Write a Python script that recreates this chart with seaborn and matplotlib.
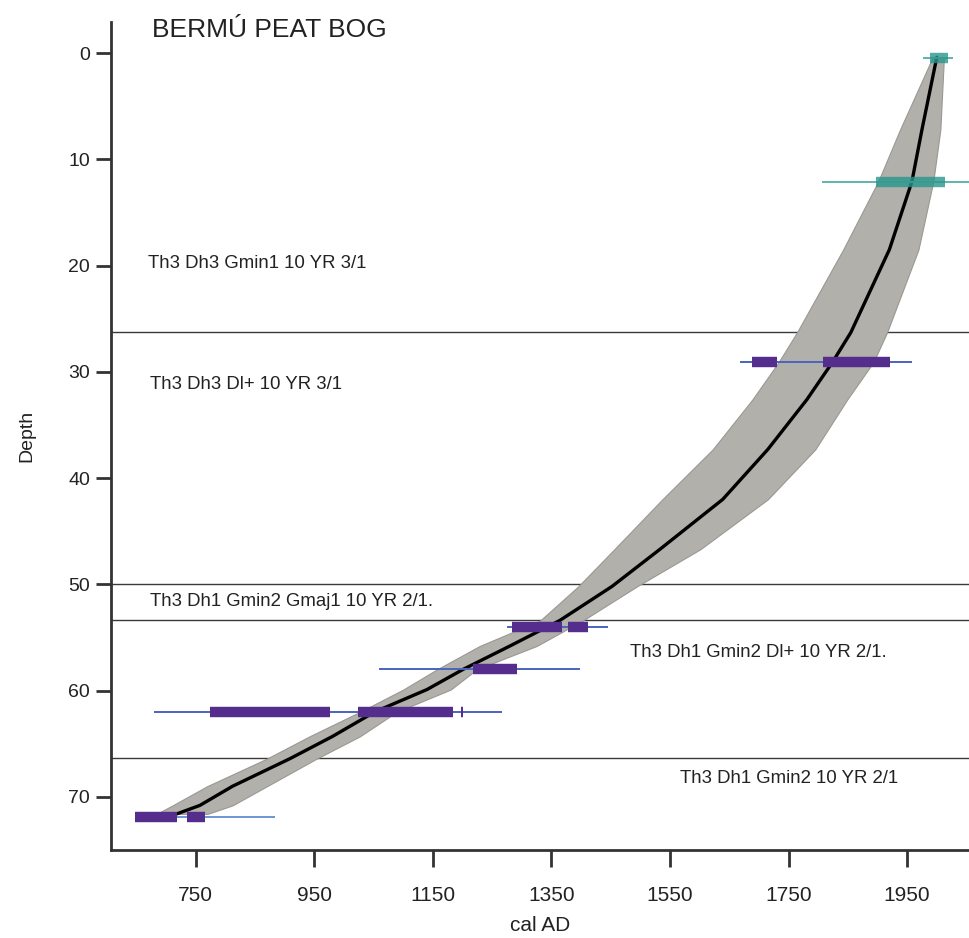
import numpy as np
import pandas as pd
import matplotlib
matplotlib.use('Agg')
import matplotlib.pyplot as plt
import seaborn as sns

# Age-depth model (depth in cm, age in cal AD)
depth = [0.4, 7.2, 12.1, 18.5, 26.3, 29.1, 32.6, 37.3, 42.0, 46.7, 50.2,
         53.4, 55.8, 58.0, 59.9, 62.0, 64.3, 66.4, 69.0, 70.8, 71.6]
age_mean = [2000, 1975, 1958, 1920, 1855, 1824, 1781, 1715, 1639, 1533, 1452,
            1364, 1280, 1201, 1140, 1052, 981, 909, 812, 757, 718]
age_low = [1993, 1938, 1901, 1842, 1764, 1733, 1689, 1622, 1537, 1456, 1395,
           1331, 1229, 1157, 1100, 1027, 942, 870, 769, 711, 684]
age_high = [2012, 2006, 1994, 1969, 1916, 1893, 1849, 1795, 1715, 1601, 1494,
            1403, 1325, 1224, 1180, 1089, 1027, 954, 870, 812, 770]

# Dated samples: full calibrated range and the high-probability pieces
date_depth = [0.5, 12.1, 29.1, 54.0, 58.0, 62.0, 71.9]
date_min = [1977, 1807, 1668, 1275, 1059, 679, 647]
date_max = [2027, 2070, 1958, 1445, 1398, 1266, 883]
date_pieces = [
    [(1989, 2019)],
    [(1898, 2014)],
    [(1688, 1731), (1808, 1921)],
    [(1283, 1368), (1378, 1412)],
    [(1217, 1292)],
    [(774, 976), (1023, 1184), (1197, 1201)],
    [(647, 718), (736, 765)],
]
date_kind = ['modern', 'modern', 'c14', 'c14', 'c14', 'c14', 'c14_light']

# Lithology boundaries and descriptions
unit_bounds = [26.3, 50.0, 53.4, 66.3]
unit_text = ['Th3 Dh3 Gmin1 10 YR 3/1', 'Th3 Dh3 Dl+ 10 YR 3/1',
             'Th3 Dh1 Gmin2 Gmaj1 10 YR 2/1.', 'Th3 Dh1 Gmin2 Dl+ 10 YR 2/1.',
             'Th3 Dh1 Gmin2 10 YR 2/1']
unit_age = [669, 672, 672, 1483, 1567]
unit_depth = [19.8, 31.2, 51.6, 56.4, 68.3]

sns.set_theme(style='ticks')
plt.rcParams['font.family'] = ['Liberation Sans', 'DejaVu Sans']

fig = plt.figure(figsize=(9.7, 9.38), dpi=100)
ax = fig.add_axes([0.1144, 0.0938, 0.8856, 0.883])

model = pd.DataFrame({'depth': depth, 'mean': age_mean,
                      'low': age_low, 'high': age_high})

ax.fill_betweenx(model.depth, model.low, model.high,
                 color='#b2b0aa', edgecolor='#9a9893', lw=0.8, zorder=1)
sns.lineplot(data=model, x='mean', y='depth', sort=False, orient='y',
             color='black', lw=2.4, ax=ax, zorder=2)

colours = {'modern': ('#5cb5ab', '#2a968c', 0.8),
           'c14': ('#4a64be', '#552d8c', 1.0),
           'c14_light': ('#6f95d0', '#552d8c', 1.0)}
for d, lo, hi, pieces, kind in zip(date_depth, date_min, date_max,
                                   date_pieces, date_kind):
    thin_c, thick_c, alpha = colours[kind]
    ax.hlines(d, lo, hi, color=thin_c, lw=1.4, zorder=3)
    for a, b in pieces:
        ax.hlines(d, a, b, color=thick_c, lw=7.5, alpha=alpha, zorder=4)

for b in unit_bounds:
    ax.axhline(b, color='#3a3a3a', lw=1.0, zorder=0)

for t, a, d in zip(unit_text, unit_age, unit_depth):
    ax.text(a, d, t, fontsize=13.4, va='center', ha='left', color='#222222')

ax.text(676, -2.2, 'BERMÚ PEAT BOG', fontsize=19, va='center', ha='left',
        color='#222222')

ax.set_xlim(607, 2056)
ax.set_ylim(75.0, -2.94)
ax.set_xticks(range(750, 1951, 200))
ax.set_yticks(range(0, 71, 10))
ax.set_xlabel('cal AD', fontsize=15, color='#222222', labelpad=8)
ax.set_ylabel('Depth', fontsize=14, color='#222222', labelpad=24)

sns.despine(ax=ax)
for s in ['left', 'bottom']:
    ax.spines[s].set_linewidth(2)
    ax.spines[s].set_color('#333333')
ax.tick_params(axis='both', length=11, width=2, color='#333333',
               labelcolor='#222222')
ax.tick_params(axis='x', labelsize=15, pad=14, length=12)
ax.tick_params(axis='y', labelsize=14, pad=4)

fig.savefig('out.png', dpi=100)
